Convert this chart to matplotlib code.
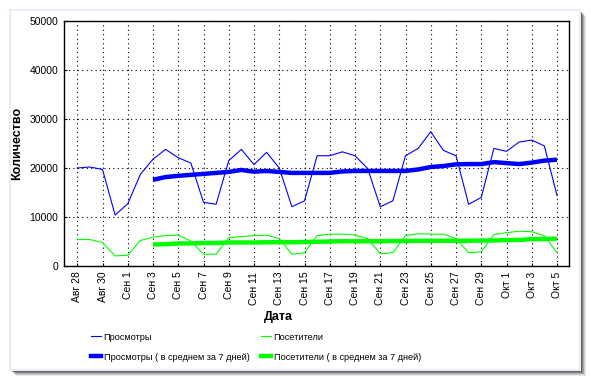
import matplotlib
matplotlib.use("Agg")
import matplotlib.pyplot as plt
from matplotlib.patches import Rectangle
from matplotlib.lines import Line2D

plt.rcParams['font.family'] = ['Liberation Sans', 'DejaVu Sans']

# дни с 28 августа по 5 октября
days = list(range(39))
tick_labels = ["Авг 28", "Авг 30", "Сен 1", "Сен 3", "Сен 5", "Сен 7", "Сен 9",
               "Сен 11", "Сен 13", "Сен 15", "Сен 17", "Сен 19", "Сен 21", "Сен 23",
               "Сен 25", "Сен 27", "Сен 29", "Окт 1", "Окт 3", "Окт 5"]

views = [20000, 20200, 19700, 10400, 12700, 18700, 21800, 23800, 22100, 21000,
         13000, 12600, 21500, 23800, 20700, 23200, 20000, 12100, 13300, 22500,
         22500, 23300, 22500, 19900, 12100, 13300, 22500, 24000, 27400, 23600,
         22500, 12600, 14000, 24000, 23400, 25300, 25700, 24500, 14400]

visitors = [5400, 5400, 4800, 2050, 2200, 5200, 5900, 6200, 6300, 5100,
            2400, 2400, 5800, 6000, 6200, 6300, 5600, 2400, 2700, 6200,
            6500, 6500, 6300, 5600, 2500, 2700, 6200, 6600, 6500, 6500,
            5600, 2700, 2900, 6400, 6800, 7100, 7000, 6200, 2700]

# скользящее среднее за 7 дней (начинается с 3 сентября)
avg_days = list(range(6, 39))
views_avg = [17600, 18150, 18400, 18600, 18800, 19000, 19200, 19600, 19250, 19400,
             19200, 19000, 19000, 19000, 19000, 19300, 19400, 19400, 19400, 19400,
             19400, 19700, 20200, 20400, 20750, 20800, 20800, 21200, 21000, 20800,
             21100, 21500, 21700]
visitors_avg = [4400, 4450, 4600, 4600, 4700, 4700, 4800, 4800, 4800, 4850,
                4850, 4850, 4900, 4950, 5000, 5050, 5050, 5050, 5050, 5100,
                5100, 5150, 5150, 5150, 5150, 5150, 5200, 5200, 5300, 5300,
                5500, 5500, 5600]

fig = plt.figure(figsize=(5.91, 3.82), dpi=100)
fig.patch.set_facecolor('white')

# панель с тенью
W, H = 591, 382
for i, a in enumerate([0.10, 0.15, 0.22, 0.32, 0.45]):
    off = 6 - i
    fig.patches.append(Rectangle(((10 + off) / W, (H - 370 - off) / H), 570 / W, 360 / H,
                                 transform=fig.transFigure, facecolor='#303030',
                                 alpha=a, edgecolor='none', zorder=0))
fig.patches.append(Rectangle((10 / W, (H - 370) / H), 570 / W, 360 / H,
                             transform=fig.transFigure, facecolor='white',
                             edgecolor='#e8ecf6', linewidth=1.5, zorder=1))

ax = fig.add_axes([64 / W, (H - 266) / H, 505 / W, 245 / H])
ax.set_zorder(2)

ax.plot(days, views, color='#0000ff', lw=0.8)
ax.plot(days, visitors, color='#00ff00', lw=0.8)
ax.plot(avg_days, views_avg, color='#0000ff', lw=3.2, solid_capstyle='butt')
ax.plot(avg_days, visitors_avg, color='#00ff00', lw=3.2, solid_capstyle='butt')

ax.set_xlim(-1.05, 38.95)
ax.set_ylim(0, 50000)
ax.set_xticks(days[::2])
ax.set_xticklabels(tick_labels, rotation=90, fontsize=7.5)
ax.set_yticks(range(0, 50001, 10000))
ax.set_yticklabels([str(v) for v in range(0, 50001, 10000)], fontsize=7.5)
ax.tick_params(direction='in', length=2, width=0.8, pad=4)
ax.grid(True, color='black', linestyle=(0, (1, 3)), linewidth=0.8)
for s in ax.spines.values():
    s.set_linewidth(1)

ax.set_xlabel("Дата", fontsize=9, fontweight='bold')
ax.xaxis.set_label_coords((278 - 64) / 505, -(317 - 266) / 245)
ax.xaxis.label.set_va('center')
ax.set_ylabel("Количество", fontsize=9, fontweight='bold')
ax.yaxis.set_label_coords((23 - 64) / 505, 0.5)

handles = [Line2D([], [], color='#0000ff', lw=0.8),
           Line2D([], [], color='#0000ff', lw=3.2),
           Line2D([], [], color='#00ff00', lw=0.8),
           Line2D([], [], color='#00ff00', lw=3.2)]
labels = ["Просмотры", "Просмотры ( в среднем за 7 дней)",
          "Посетители", "Посетители ( в среднем за 7 дней)"]
fig.legend(handles, labels, ncol=2, loc='center', bbox_to_anchor=(256 / W, (H - 347) / H),
           frameon=False, fontsize=6.6, handlelength=1.05, handletextpad=0.3,
           columnspacing=1.3, labelspacing=1.2)

fig.savefig("out.png", dpi=100)
